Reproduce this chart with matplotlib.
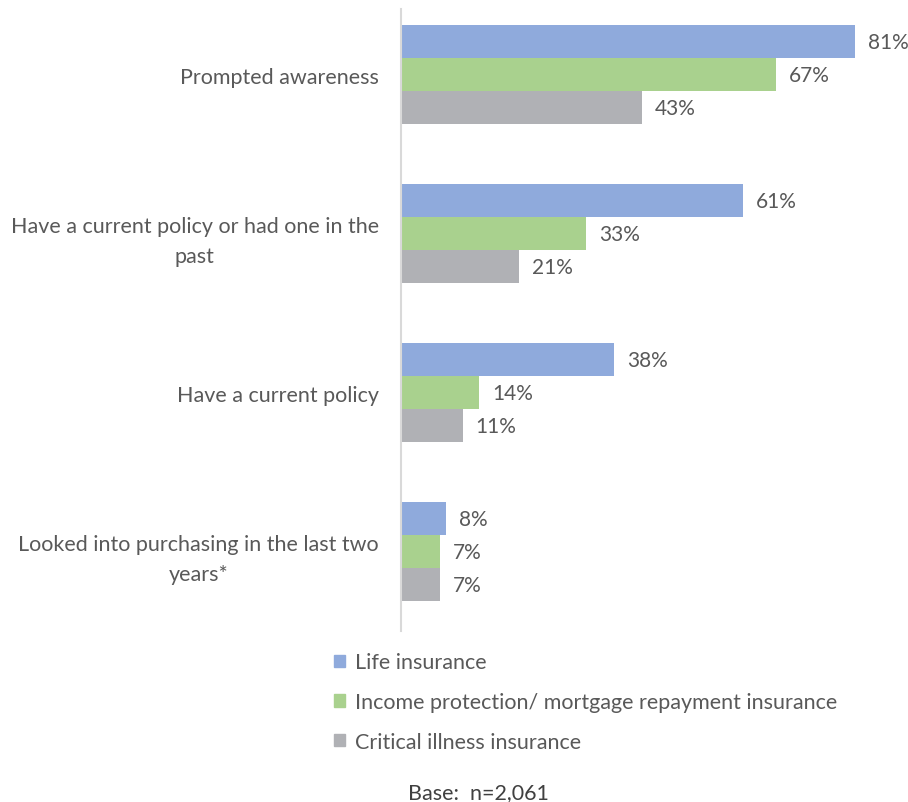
import matplotlib
matplotlib.use("Agg")
import matplotlib.pyplot as plt
from matplotlib.patches import Patch

categories = ["Prompted awareness",
              "Have a current policy or had one in the\npast",
              "Have a current policy",
              "Looked into purchasing in the last two\nyears*"]
series_names = ["Life insurance",
                "Income protection/ mortgage repayment insurance",
                "Critical illness insurance"]
life = [81, 61, 38, 8]
income = [67, 33, 14, 7]
critical = [43, 21, 11, 7]
colors = ["#8FAADC", "#A9D18E", "#B0B1B5"]
base_note = "Base:  n=2,061"

plt.rcParams['font.family'] = ['Lato', 'DejaVu Sans']
W, H = 908, 803
fs = 15.5
fig = plt.figure(figsize=(W/100, H/100), dpi=100)
ax = fig.add_axes([401/W, 1-632/H, 90*5.6/W, 622/H])

bh = 0.2075
ys = range(len(categories))
for i, (vals, c) in enumerate(zip([life, income, critical], colors)):
    pos = [y + (i-1)*bh for y in ys]
    bars = ax.barh(pos, vals, height=bh, color=c, label=series_names[i])
    for b, v in zip(bars, vals):
        ax.annotate(f"{v}%", (b.get_width(), b.get_y()+b.get_height()/2),
                    xytext=(13, 0), textcoords="offset pixels",
                    ha="left", va="center", fontsize=15, color="#595959")

ax.set_xlim(0, 90)
ax.set_ylim(3.497, -0.415)
ax.set_yticks(list(ys))
ax.set_yticklabels(categories, fontsize=fs, color="#595959", multialignment="center",
                   linespacing=1.6)
ax.tick_params(axis="y", length=0, pad=16)
ax.set_xticks([])
for s in ["top", "right", "bottom"]:
    ax.spines[s].set_visible(False)
ax.spines["left"].set_color("#D9D9D9")
ax.spines["left"].set_linewidth(1.5)

handles = [Patch(color=c, label=n) for c, n in zip(colors, series_names)]
leg = fig.legend(handles=handles, loc="upper left", bbox_to_anchor=(330/W, 1-649/H),
                 frameon=False, fontsize=fs, handlelength=0.5, handleheight=0.5,
                 handletextpad=0.45, labelspacing=0.92, borderaxespad=0, borderpad=0.2)
for t in leg.get_texts():
    t.set_color("#595959")

fig.text(478/W, 1-793/H, base_note, ha="center", va="center", fontsize=fs, color="#404040")
fig.savefig("out.png", dpi=100)
